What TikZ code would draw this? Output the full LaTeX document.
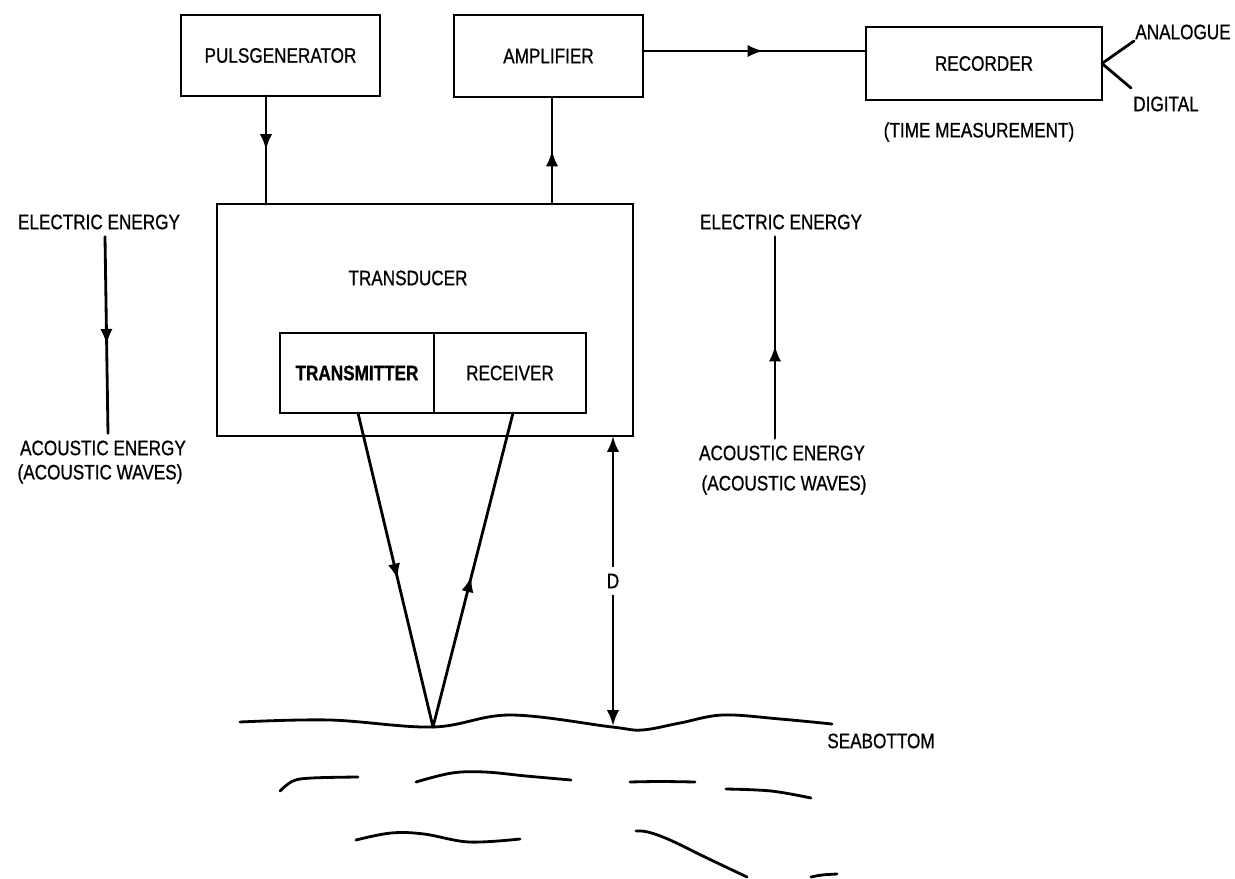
\documentclass[tikz,border=0pt]{standalone}
\usepackage{fontspec}
\setmainfont{Liberation Sans}[FakeStretch=0.82,FakeBold=0.8]
\usetikzlibrary{arrows.meta,decorations.markings}
\begin{document}
\begin{tikzpicture}[x=0.02cm,y=-0.02cm,
  line width=1.6pt, line cap=round,
  >={Latex[length=9pt,width=7pt]},
  every node/.style={font=\fontsize{11.9}{14}\selectfont},
  box/.style={draw,inner sep=0pt,outer sep=0pt},
  midarrow/.style={postaction={decorate},
    decoration={markings,mark=at position #1 with {\arrow{>}}}},
  midarrow/.default=0.5,
  wave/.style={smooth,tension=0.6},
]
\useasboundingbox (0,0) rectangle (1235,879);

% signal chain at the top
\node[box,minimum width=3.98cm,minimum height=1.62cm] (pg) at (280.5,55.5) {PULSGENERATOR};
\node[box,minimum width=3.78cm,minimum height=1.64cm] (amp) at (548.5,56) {AMPLIFIER};
\node[box,minimum width=4.72cm,minimum height=1.46cm] (rec) at (984,63.5) {RECORDER};
\node (tm) at (979,132) {(TIME MEASUREMENT)};
\node (antext) at (1183,32) {ANALOGUE};
\node (dgtext) at (1166,104) {DIGITAL};
\coordinate (an) at (1134,41);
\coordinate (dg) at (1131,88);

% transducer with transmitter and receiver
\node[box,minimum width=8.32cm,minimum height=4.64cm] (td) at (425,320) {};
\node (tdtext) at (408,278) {TRANSDUCER};
\node[box,minimum width=3.08cm,minimum height=1.6cm] (tx) at (357,373) {\bfseries TRANSMITTER};
\node[box,minimum width=3.04cm,minimum height=1.6cm] (rx) at (510,373) {RECEIVER};

% energy conversion labels
\node (ee1) at (99,222) {ELECTRIC ENERGY};
\node (ae1) at (103,448) {ACOUSTIC ENERGY};
\node (aw1) at (100,474) {(ACOUSTIC WAVES)};
\node (ee2) at (781,222) {ELECTRIC ENERGY};
\node (ae2) at (782,453) {ACOUSTIC ENERGY};
\node (aw2) at (784,485) {(ACOUSTIC WAVES)};

% connectors
\draw[midarrow] (pg.south -| 266,0) -- (td.north -| 266,0);
\draw[midarrow] (td.north -| 552,0) -- (amp.south -| 552,0);
\draw[midarrow=0.54] (amp.east |- 0,51) -- (rec.west |- 0,51);
\draw (rec.east) -- (an);
\draw (rec.east) -- (dg);
\draw[midarrow=0.55] (ee1.south -| 105,0) -- (ae1.north -| 108,0);
\draw[midarrow=0.46] (ae2.north -| 775,0) -- (ee2.south -| 775,0);

% sound paths to the bottom
\coordinate (sb) at (433,727);
\coordinate (db) at (613,726);
\draw[midarrow=0.53] (tx.south -| 358,0) -- (sb);
\draw[midarrow=0.48] (sb) -- (rx.south -| 513,0);
\draw[<->] (td.south -| 613,0) -- node[fill=white,inner sep=4pt] (dl) {D} (db);

% seabottom and sediment strokes
\draw plot[wave] coordinates {(240,722) (330,720) (433,727) (510,715) (612,727) (642,730) (680,723) (723,715) (780,719) (832,724)};
\node (sbt) at (881,741) {SEABOTTOM};
\draw plot[wave] coordinates {(280,791) (293,781) (312,778) (358,777)};
\draw plot[wave] coordinates {(416,782) (452,773) (485,772) (526,776) (571,780)};
\draw plot[wave] coordinates {(630,782) (660,781.5) (695,782)};
\draw plot[wave] coordinates {(726,789) (771,791) (811,798)};
\draw plot[wave] coordinates {(356,840) (391,833) (424,834) (469,842) (520,839)};
\draw plot[wave] coordinates {(636,831) (648,832) (670,840) (707,858) (747,877)};
\draw plot[wave] coordinates {(811,877) (822,875) (837,874)};
\end{tikzpicture}
\end{document}
